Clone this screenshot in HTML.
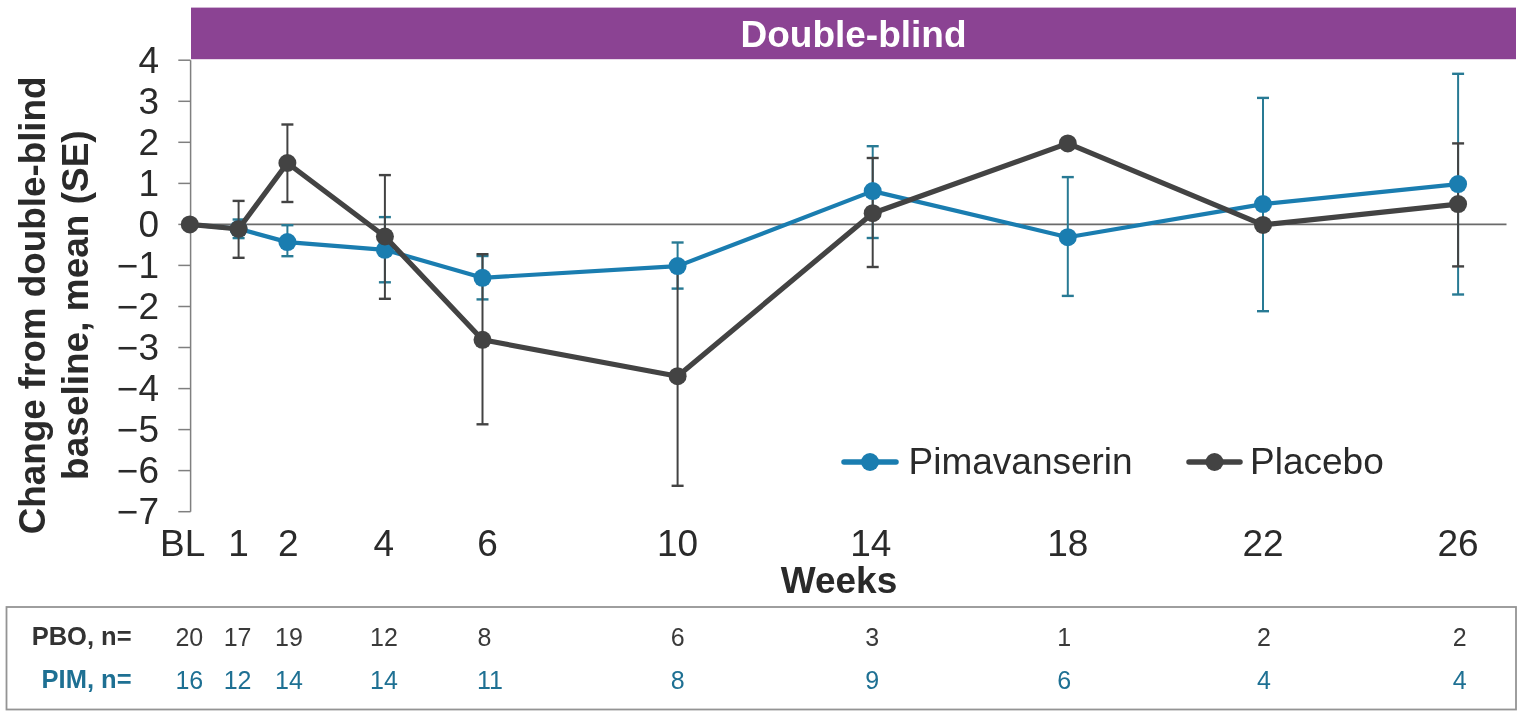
<!DOCTYPE html>
<html><head><meta charset="utf-8"><title>Double-blind change from baseline</title>
<style>
html,body{margin:0;padding:0;background:#fff;}
body{width:1535px;height:725px;overflow:hidden;}
svg{display:block;}
text{font-family:'Liberation Sans', Arial, sans-serif;}
</style></head><body>
<svg width="1535" height="725" viewBox="0 0 1535 725">

<rect x="191" y="7.6" width="1325" height="51.6" fill="#8b4393"/>
<text x="853.5" y="47" font-size="37" font-weight="bold" fill="#fff" text-anchor="middle">Double-blind</text>
<line x1="190.6" y1="60.2" x2="190.6" y2="511.7" stroke="#7f7f7f" stroke-width="1.5"/>
<line x1="178.3" y1="60.2" x2="190.6" y2="60.2" stroke="#7f7f7f" stroke-width="1.5"/>
<text transform="translate(159.00,73.04) scale(1.028,1)" font-size="36" fill="#2a2a2a" text-anchor="end">4</text>
<line x1="178.3" y1="101.3" x2="190.6" y2="101.3" stroke="#7f7f7f" stroke-width="1.5"/>
<text transform="translate(159.00,114.08) scale(1.028,1)" font-size="36" fill="#2a2a2a" text-anchor="end">3</text>
<line x1="178.3" y1="142.3" x2="190.6" y2="142.3" stroke="#7f7f7f" stroke-width="1.5"/>
<text transform="translate(159.00,155.12) scale(1.028,1)" font-size="36" fill="#2a2a2a" text-anchor="end">2</text>
<line x1="178.3" y1="183.4" x2="190.6" y2="183.4" stroke="#7f7f7f" stroke-width="1.5"/>
<text transform="translate(159.00,196.16) scale(1.028,1)" font-size="36" fill="#2a2a2a" text-anchor="end">1</text>
<line x1="178.3" y1="224.4" x2="190.6" y2="224.4" stroke="#7f7f7f" stroke-width="1.5"/>
<text transform="translate(159.00,237.20) scale(1.028,1)" font-size="36" fill="#2a2a2a" text-anchor="end">0</text>
<line x1="178.3" y1="265.4" x2="190.6" y2="265.4" stroke="#7f7f7f" stroke-width="1.5"/>
<text transform="translate(159.00,278.24) scale(1.028,1)" font-size="36" fill="#2a2a2a" text-anchor="end">−1</text>
<line x1="178.3" y1="306.5" x2="190.6" y2="306.5" stroke="#7f7f7f" stroke-width="1.5"/>
<text transform="translate(159.00,319.28) scale(1.028,1)" font-size="36" fill="#2a2a2a" text-anchor="end">−2</text>
<line x1="178.3" y1="347.5" x2="190.6" y2="347.5" stroke="#7f7f7f" stroke-width="1.5"/>
<text transform="translate(159.00,360.32) scale(1.028,1)" font-size="36" fill="#2a2a2a" text-anchor="end">−3</text>
<line x1="178.3" y1="388.6" x2="190.6" y2="388.6" stroke="#7f7f7f" stroke-width="1.5"/>
<text transform="translate(159.00,401.36) scale(1.028,1)" font-size="36" fill="#2a2a2a" text-anchor="end">−4</text>
<line x1="178.3" y1="429.6" x2="190.6" y2="429.6" stroke="#7f7f7f" stroke-width="1.5"/>
<text transform="translate(159.00,442.40) scale(1.028,1)" font-size="36" fill="#2a2a2a" text-anchor="end">−5</text>
<line x1="178.3" y1="470.6" x2="190.6" y2="470.6" stroke="#7f7f7f" stroke-width="1.5"/>
<text transform="translate(159.00,483.44) scale(1.028,1)" font-size="36" fill="#2a2a2a" text-anchor="end">−6</text>
<line x1="178.3" y1="511.7" x2="190.6" y2="511.7" stroke="#7f7f7f" stroke-width="1.5"/>
<text transform="translate(159.00,524.48) scale(1.028,1)" font-size="36" fill="#2a2a2a" text-anchor="end">−7</text>
<line x1="190.6" y1="224.4" x2="1506.5" y2="224.4" stroke="#6a6a6a" stroke-width="1.8"/>
<text transform="translate(182.70,556.00) scale(1.028,1)" font-size="36" fill="#2a2a2a" text-anchor="middle">BL</text>
<text transform="translate(238.58,556.00) scale(1.028,1)" font-size="36" fill="#2a2a2a" text-anchor="middle">1</text>
<text transform="translate(288.36,556.00) scale(1.028,1)" font-size="36" fill="#2a2a2a" text-anchor="middle">2</text>
<text transform="translate(383.92,556.00) scale(1.028,1)" font-size="36" fill="#2a2a2a" text-anchor="middle">4</text>
<text transform="translate(487.48,556.00) scale(1.028,1)" font-size="36" fill="#2a2a2a" text-anchor="middle">6</text>
<text transform="translate(677.60,556.00) scale(1.028,1)" font-size="36" fill="#2a2a2a" text-anchor="middle">10</text>
<text transform="translate(870.72,556.00) scale(1.028,1)" font-size="36" fill="#2a2a2a" text-anchor="middle">14</text>
<text transform="translate(1067.84,556.00) scale(1.028,1)" font-size="36" fill="#2a2a2a" text-anchor="middle">18</text>
<text transform="translate(1262.96,556.00) scale(1.028,1)" font-size="36" fill="#2a2a2a" text-anchor="middle">22</text>
<text transform="translate(1458.08,556.00) scale(1.028,1)" font-size="36" fill="#2a2a2a" text-anchor="middle">26</text>
<text transform="translate(839.00,593.00) scale(1.028,1)" font-size="36" font-weight="bold" fill="#2a2a2a" text-anchor="middle">Weeks</text>
<text transform="translate(45.3,305.4) rotate(-90)" font-size="36.8" font-weight="bold" fill="#2a2a2a" text-anchor="middle">Change from double-blind</text>
<text transform="translate(88.3,305.1) rotate(-90)" font-size="37" font-weight="bold" fill="#2a2a2a" text-anchor="middle">baseline, mean (SE)</text>
<line x1="238.6" y1="219.5" x2="238.6" y2="238.1" stroke="#287a94" stroke-width="2"/>
<line x1="232.6" y1="219.5" x2="244.6" y2="219.5" stroke="#287a94" stroke-width="2.4"/>
<line x1="232.6" y1="238.1" x2="244.6" y2="238.1" stroke="#287a94" stroke-width="2.4"/>
<line x1="287.4" y1="225.2" x2="287.4" y2="256.2" stroke="#287a94" stroke-width="2"/>
<line x1="281.4" y1="225.2" x2="293.4" y2="225.2" stroke="#287a94" stroke-width="2.4"/>
<line x1="281.4" y1="256.2" x2="293.4" y2="256.2" stroke="#287a94" stroke-width="2.4"/>
<line x1="384.9" y1="217.1" x2="384.9" y2="282.3" stroke="#287a94" stroke-width="2"/>
<line x1="378.9" y1="217.1" x2="390.9" y2="217.1" stroke="#287a94" stroke-width="2.4"/>
<line x1="378.9" y1="282.3" x2="390.9" y2="282.3" stroke="#287a94" stroke-width="2.4"/>
<line x1="482.5" y1="256" x2="482.5" y2="299.4" stroke="#287a94" stroke-width="2"/>
<line x1="476.5" y1="256" x2="488.5" y2="256" stroke="#287a94" stroke-width="2.4"/>
<line x1="476.5" y1="299.4" x2="488.5" y2="299.4" stroke="#287a94" stroke-width="2.4"/>
<line x1="677.6" y1="242.5" x2="677.6" y2="288.6" stroke="#287a94" stroke-width="2"/>
<line x1="671.6" y1="242.5" x2="683.6" y2="242.5" stroke="#287a94" stroke-width="2.4"/>
<line x1="671.6" y1="288.6" x2="683.6" y2="288.6" stroke="#287a94" stroke-width="2.4"/>
<line x1="872.7" y1="146.2" x2="872.7" y2="238" stroke="#287a94" stroke-width="2"/>
<line x1="866.7" y1="146.2" x2="878.7" y2="146.2" stroke="#287a94" stroke-width="2.4"/>
<line x1="866.7" y1="238" x2="878.7" y2="238" stroke="#287a94" stroke-width="2.4"/>
<line x1="1067.8" y1="177.1" x2="1067.8" y2="295.9" stroke="#287a94" stroke-width="2"/>
<line x1="1061.8" y1="177.1" x2="1073.8" y2="177.1" stroke="#287a94" stroke-width="2.4"/>
<line x1="1061.8" y1="295.9" x2="1073.8" y2="295.9" stroke="#287a94" stroke-width="2.4"/>
<line x1="1263.0" y1="97.9" x2="1263.0" y2="311.2" stroke="#287a94" stroke-width="2"/>
<line x1="1257.0" y1="97.9" x2="1269.0" y2="97.9" stroke="#287a94" stroke-width="2.4"/>
<line x1="1257.0" y1="311.2" x2="1269.0" y2="311.2" stroke="#287a94" stroke-width="2.4"/>
<line x1="1458.1" y1="73.8" x2="1458.1" y2="294.5" stroke="#287a94" stroke-width="2"/>
<line x1="1452.1" y1="73.8" x2="1464.1" y2="73.8" stroke="#287a94" stroke-width="2.4"/>
<line x1="1452.1" y1="294.5" x2="1464.1" y2="294.5" stroke="#287a94" stroke-width="2.4"/>
<line x1="238.6" y1="200.9" x2="238.6" y2="257.8" stroke="#434343" stroke-width="2"/>
<line x1="232.6" y1="200.9" x2="244.6" y2="200.9" stroke="#434343" stroke-width="2.4"/>
<line x1="232.6" y1="257.8" x2="244.6" y2="257.8" stroke="#434343" stroke-width="2.4"/>
<line x1="287.4" y1="124.5" x2="287.4" y2="202" stroke="#434343" stroke-width="2"/>
<line x1="281.4" y1="124.5" x2="293.4" y2="124.5" stroke="#434343" stroke-width="2.4"/>
<line x1="281.4" y1="202" x2="293.4" y2="202" stroke="#434343" stroke-width="2.4"/>
<line x1="384.9" y1="175.1" x2="384.9" y2="298.8" stroke="#434343" stroke-width="2"/>
<line x1="378.9" y1="175.1" x2="390.9" y2="175.1" stroke="#434343" stroke-width="2.4"/>
<line x1="378.9" y1="298.8" x2="390.9" y2="298.8" stroke="#434343" stroke-width="2.4"/>
<line x1="482.5" y1="254.2" x2="482.5" y2="424.3" stroke="#434343" stroke-width="2"/>
<line x1="476.5" y1="254.2" x2="488.5" y2="254.2" stroke="#434343" stroke-width="2.4"/>
<line x1="476.5" y1="424.3" x2="488.5" y2="424.3" stroke="#434343" stroke-width="2.4"/>
<line x1="677.6" y1="266" x2="677.6" y2="485.8" stroke="#434343" stroke-width="2"/>
<line x1="671.6" y1="266" x2="683.6" y2="266" stroke="#434343" stroke-width="2.4"/>
<line x1="671.6" y1="485.8" x2="683.6" y2="485.8" stroke="#434343" stroke-width="2.4"/>
<line x1="872.7" y1="158" x2="872.7" y2="267" stroke="#434343" stroke-width="2"/>
<line x1="866.7" y1="158" x2="878.7" y2="158" stroke="#434343" stroke-width="2.4"/>
<line x1="866.7" y1="267" x2="878.7" y2="267" stroke="#434343" stroke-width="2.4"/>
<line x1="1458.1" y1="143.4" x2="1458.1" y2="266.4" stroke="#434343" stroke-width="2"/>
<line x1="1452.1" y1="143.4" x2="1464.1" y2="143.4" stroke="#434343" stroke-width="2.4"/>
<line x1="1452.1" y1="266.4" x2="1464.1" y2="266.4" stroke="#434343" stroke-width="2.4"/>
<polyline points="189.8,224.4 238.6,228.8 287.4,242.1 384.9,249.8 482.5,277.8 677.6,266.1 872.7,191.1 1067.8,237.2 1263.0,204.1 1458.1,184.1" fill="none" stroke="#1a7db0" stroke-width="4.2" stroke-linejoin="round"/>
<circle cx="238.6" cy="228.8" r="9.0" fill="#1a7db0"/>
<circle cx="287.4" cy="242.1" r="9.0" fill="#1a7db0"/>
<circle cx="384.9" cy="249.8" r="9.0" fill="#1a7db0"/>
<circle cx="482.5" cy="277.8" r="9.0" fill="#1a7db0"/>
<circle cx="677.6" cy="266.1" r="9.0" fill="#1a7db0"/>
<circle cx="872.7" cy="191.1" r="9.0" fill="#1a7db0"/>
<circle cx="1067.8" cy="237.2" r="9.0" fill="#1a7db0"/>
<circle cx="1263.0" cy="204.1" r="9.0" fill="#1a7db0"/>
<circle cx="1458.1" cy="184.1" r="9.0" fill="#1a7db0"/>
<polyline points="189.8,224.4 238.6,229.0 287.4,163.0 384.9,236.5 482.5,339.8 677.6,376.2 872.7,213.2 1067.8,143.4 1263.0,224.9 1458.1,204.1" fill="none" stroke="#434343" stroke-width="5.2" stroke-linejoin="round"/>
<circle cx="189.8" cy="224.4" r="9.0" fill="#434343"/>
<circle cx="238.6" cy="229.0" r="9.0" fill="#434343"/>
<circle cx="287.4" cy="163.0" r="9.0" fill="#434343"/>
<circle cx="384.9" cy="236.5" r="9.0" fill="#434343"/>
<circle cx="482.5" cy="339.8" r="9.0" fill="#434343"/>
<circle cx="677.6" cy="376.2" r="9.0" fill="#434343"/>
<circle cx="872.7" cy="213.2" r="9.0" fill="#434343"/>
<circle cx="1067.8" cy="143.4" r="9.0" fill="#434343"/>
<circle cx="1263.0" cy="224.9" r="9.0" fill="#434343"/>
<circle cx="1458.1" cy="204.1" r="9.0" fill="#434343"/>
<line x1="844" y1="462" x2="896" y2="462" stroke="#1a7db0" stroke-width="5.5" stroke-linecap="round"/>
<circle cx="870" cy="462" r="9" fill="#1a7db0"/>
<text transform="translate(908.50,474.00) scale(1.028,1)" font-size="36" fill="#2a2a2a">Pimavanserin</text>
<line x1="1189" y1="462" x2="1240" y2="462" stroke="#434343" stroke-width="5.5" stroke-linecap="round"/>
<circle cx="1214.5" cy="462" r="9" fill="#434343"/>
<text transform="translate(1250.00,474.00) scale(1.028,1)" font-size="36" fill="#2a2a2a">Placebo</text>
<rect x="6.5" y="607" width="1509.5" height="102.5" fill="none" stroke="#949494" stroke-width="1.8"/>
<text x="131.6" y="645.2" font-size="25.5" font-weight="bold" fill="#333" text-anchor="end">PBO, n=</text>
<text x="131.6" y="688.4" font-size="25.5" font-weight="bold" fill="#1e7093" text-anchor="end">PIM, n=</text>
<text x="189.3" y="646" font-size="25" fill="#3a3a3a" text-anchor="middle">20</text>
<text x="189.3" y="689" font-size="25" fill="#1e7093" text-anchor="middle">16</text>
<text x="237.6" y="646" font-size="25" fill="#3a3a3a" text-anchor="middle">17</text>
<text x="237.6" y="689" font-size="25" fill="#1e7093" text-anchor="middle">12</text>
<text x="288.9" y="646" font-size="25" fill="#3a3a3a" text-anchor="middle">19</text>
<text x="288.9" y="689" font-size="25" fill="#1e7093" text-anchor="middle">14</text>
<text x="383.9" y="646" font-size="25" fill="#3a3a3a" text-anchor="middle">12</text>
<text x="383.9" y="689" font-size="25" fill="#1e7093" text-anchor="middle">14</text>
<text x="484.5" y="646" font-size="25" fill="#3a3a3a" text-anchor="middle">8</text>
<text x="490.0" y="689" font-size="25" fill="#1e7093" text-anchor="middle">11</text>
<text x="677.6" y="646" font-size="25" fill="#3a3a3a" text-anchor="middle">6</text>
<text x="677.6" y="689" font-size="25" fill="#1e7093" text-anchor="middle">8</text>
<text x="872.2" y="646" font-size="25" fill="#3a3a3a" text-anchor="middle">3</text>
<text x="872.2" y="689" font-size="25" fill="#1e7093" text-anchor="middle">9</text>
<text x="1064.3" y="646" font-size="25" fill="#3a3a3a" text-anchor="middle">1</text>
<text x="1064.3" y="689" font-size="25" fill="#1e7093" text-anchor="middle">6</text>
<text x="1264.0" y="646" font-size="25" fill="#3a3a3a" text-anchor="middle">2</text>
<text x="1264.0" y="689" font-size="25" fill="#1e7093" text-anchor="middle">4</text>
<text x="1459.6" y="646" font-size="25" fill="#3a3a3a" text-anchor="middle">2</text>
<text x="1459.6" y="689" font-size="25" fill="#1e7093" text-anchor="middle">4</text>
</svg>
</body></html>
